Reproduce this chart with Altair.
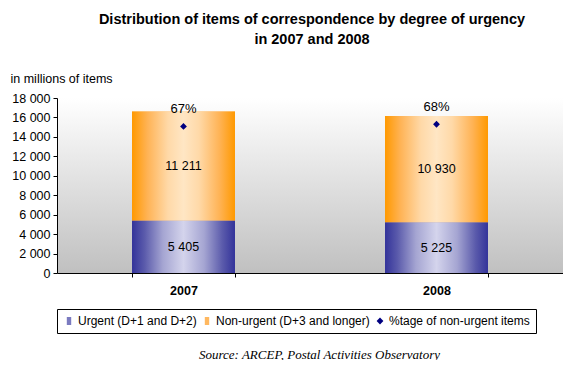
import altair as alt
import pandas as pd

years = ["2007", "2008"]
urgent = [5405, 5225]
non_urgent = [11211, 10930]
pct_non_urgent = [0.67, 0.68]
series_names = ["Urgent (D+1 and D+2)", "Non-urgent (D+3 and longer)", "%tage of non-urgent items"]
y_ticks = list(range(0, 18001, 2000))

rows = []
for i, yr in enumerate(years):
    rows.append({"year": yr, "series": series_names[0], "value": urgent[i], "ord": 0})
    rows.append({"year": yr, "series": series_names[1], "value": non_urgent[i], "ord": 1})
bars_df = pd.DataFrame(rows)
pct_df = pd.DataFrame({"year": years, "pct": pct_non_urgent, "series": [series_names[2]] * len(years)})
bg_df = pd.DataFrame({"k": [0]})

W, H = 506, 175
FONT = "Liberation Sans"

def hgrad(stops):
    return {"gradient": "linear", "x1": 0, "y1": 0, "x2": 1, "y2": 0,
            "stops": [{"offset": o, "color": c} for o, c in stops]}

grad_u = hgrad([(0, "#33339a"), (0.12, "#5a5aab"), (0.3, "#a5a5d2"), (0.5, "#d4d4ec"),
                (0.7, "#a5a5d2"), (0.88, "#5a5aab"), (1, "#33339a")])
grad_n = hgrad([(0, "#ff9900"), (0.15, "#ffb355"), (0.35, "#ffd9a8"), (0.5, "#ffe6c4"),
                (0.65, "#ffd9a8"), (0.85, "#ffb355"), (1, "#ff9900")])
grad_bg = {"gradient": "linear", "x1": 0, "y1": 0, "x2": 0, "y2": 1,
           "stops": [{"offset": 0, "color": "#ffffff"}, {"offset": 1, "color": "#c0c0c0"}]}

rect_path = "M-0.55,-1H0.55V1H-0.55Z"
diamond_path = "M0,-0.85L0.85,0L0,0.85L-0.85,0Z"

legend = alt.Legend(orient="none", legendX=0, legendY=211, direction="horizontal", title=None,
                    strokeColor="black", fillColor="white", padding=6, labelFontSize=12,
                    labelColor="black", labelFont=FONT, labelLimit=400, symbolSize=64,
                    columnPadding=4, labelOffset=3, symbolStrokeWidth=0)

color = alt.Color("series:N", scale=alt.Scale(domain=series_names,
                  range=["#7b7bc0", "#ffb860", "#000080"]), legend=legend)
shape = alt.Shape("series:N", scale=alt.Scale(domain=series_names,
                  range=[rect_path, rect_path, diamond_path]), legend=legend)

x = alt.X("year:N", scale=alt.Scale(domain=years, paddingInner=0.593, paddingOuter=0.2965),
          axis=alt.Axis(title="Source: ARCEP, Postal Activities Observatory",
                        titleFont="Liberation Serif", titleFontStyle="italic",
                        titleFontWeight="normal", titleFontSize=13, titleColor="black",
                        titleX=262, titleY=81, titleBaseline="middle", titleAlign="center",
                        labelFontWeight="bold", labelFontSize=12.5, labelAngle=0, labelPadding=7,
                        labelColor="black", labelFont=FONT, tickBand="extent", tickSize=4,
                        ticks=True, tickWidth=1, tickOpacity=1,
                        domain=True, domainWidth=1, domainOpacity=1,
                        domainColor="black", tickColor="black", zindex=2))

y_scale = alt.Scale(domain=[0, 18000], nice=False)
y_bar = alt.Y("value:Q", stack="zero", scale=y_scale,
              axis=alt.Axis(values=y_ticks, labelExpr="replace(format(datum.value, ','), ',', ' ')",
                            title="in millions of items", titleAngle=0, titleAlign="left",
                            titleBaseline="middle", titleX=-47, titleY=-20,
                            titleFontWeight="normal", titleFontSize=12.5, titleColor="black",
                            titleFont=FONT, tickSize=4, labelPadding=3, grid=False,
                            ticks=True, tickWidth=1, tickOpacity=1,
                            domain=True, domainWidth=1, domainOpacity=1,
                            domainColor="black", tickColor="black", labelColor="black",
                            labelFontSize=12.5, labelFont=FONT, zindex=2))

bg = alt.Chart(bg_df).mark_rect(color=grad_bg).encode(
    x=alt.value(0), x2=alt.value("width"), y=alt.value(0), y2=alt.value("height"))

solid = alt.Chart(bars_df).mark_bar().encode(
    x=x, y=y_bar, color=color, order=alt.Order("ord:Q"))

gradbars = alt.Chart(bars_df).mark_bar().encode(
    x=x, y=alt.Y("value:Q", stack="zero", scale=y_scale, axis=None),
    detail="series:N",
    fill=alt.condition(alt.datum.ord == 0, alt.value(grad_u), alt.value(grad_n)),
    order=alt.Order("ord:Q"))

vals = alt.Chart(bars_df).transform_stack(
    stack="value", groupby=["year"], as_=["v0", "v1"], sort=[alt.SortField("ord")]
).transform_calculate(
    mid="(datum.v0 + datum.v1) / 2",
    lbl="replace(format(datum.value, ','), ',', ' ')"
).mark_text(fontSize=12.5, font=FONT, color="black", baseline="middle").encode(
    x=x, y=alt.Y("mid:Q", scale=y_scale, axis=None), text="lbl:N")

pct_scale = alt.Scale(domain=[0, 0.8], nice=False)
pts = alt.Chart(pct_df).mark_point(filled=True, size=64, opacity=1).encode(
    x=x, y=alt.Y("pct:Q", scale=pct_scale, axis=None), color=color, shape=shape)

pct_txt = alt.Chart(pct_df).mark_text(fontSize=13, font=FONT, color="black", baseline="middle",
                                      dy=-17).encode(
    x=x, y=alt.Y("pct:Q", scale=pct_scale, axis=None), text=alt.Text("pct:Q", format=".0%"))

chart = alt.layer(bg, solid, gradbars, vals, pts, pct_txt).resolve_scale(
    y="independent").properties(
    width=W, height=H,
    padding={"left": 49, "top": 90, "right": 0, "bottom": 87},
    autosize=alt.AutoSizeParams(type="none"),
    title=alt.TitleParams(text=["Distribution of items of correspondence by degree of urgency",
                                "in 2007 and 2008"],
                          fontSize=14.5, fontWeight="bold", font=FONT, lineHeight=20,
                          offset=25, anchor="middle", dx=2, color="black"),
).configure_view(strokeWidth=0).configure(background="white")

chart.save("out.html", embed_options={"renderer": "svg", "actions": False})
